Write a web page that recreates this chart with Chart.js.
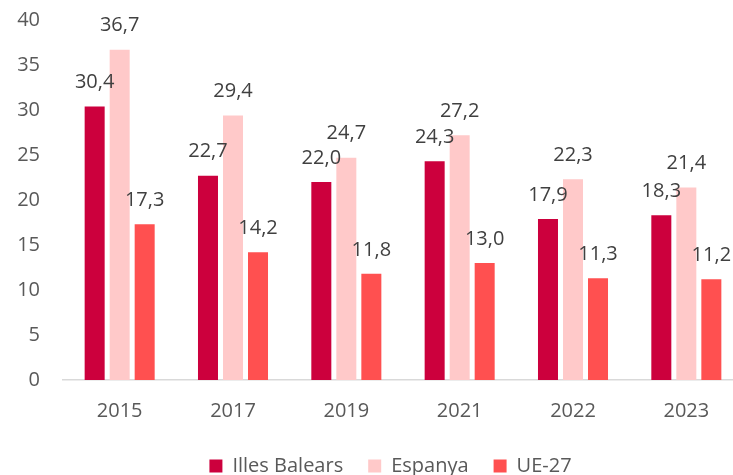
<!DOCTYPE html>
<html>
<head>
<meta charset="utf-8">
<script src="https://cdn.jsdelivr.net/npm/chart.js@4/dist/chart.umd.min.js"></script>
<style>
  html, body { margin: 0; padding: 0; background: #ffffff; overflow: hidden; }
  #wrap { width: 733px; height: 475px; overflow: hidden; }
</style>
</head>
<body>
<div id="wrap"><canvas id="c" width="745" height="475"></canvas></div>
<script>
// Years on the x axis
const years = ['2015', '2017', '2019', '2021', '2022', '2023'];
// Series values (%)
const illesBalears = [30.4, 22.7, 22.0, 24.3, 17.9, 18.3];
const espanya = [36.7, 29.4, 24.7, 27.2, 22.3, 21.4];
const ue27 = [17.3, 14.2, 11.8, 13.0, 11.3, 11.2];
// Y axis ticks
const yMin = 0, yMax = 40, yStep = 5;

const FONT = '"Open Sans", "Noto Sans", sans-serif';
const fmt = v => v.toFixed(1).replace('.', ',');

// Value labels drawn above each bar
const barLabels = {
  id: 'barLabels',
  afterDatasetsDraw(chart) {
    const ctx = chart.ctx;
    ctx.save();
    ctx.font = '20px ' + FONT;
    ctx.fillStyle = '#404040';
    ctx.textAlign = 'center';
    ctx.textBaseline = 'middle';
    chart.data.datasets.forEach((ds, i) => {
      chart.getDatasetMeta(i).data.forEach((bar, j) => {
        ctx.fillText(fmt(ds.data[j]), bar.x, bar.y - 24);
      });
    });
    ctx.restore();
  }
};

// Move the legend row into place
const legendShift = {
  id: 'legendShift',
  afterLayout(chart) {
    const dx = 19, dy = -11;
    const lg = chart.legend;
    lg.left += dx; lg.right += dx;
    lg.top += dy; lg.bottom += dy;
  }
};

new Chart(document.getElementById('c'), {
  type: 'bar',
  data: {
    labels: years,
    datasets: [
      { label: 'Illes Balears', data: illesBalears, backgroundColor: '#CC003D' },
      { label: 'Espanya', data: espanya, backgroundColor: '#FFC9C9' },
      { label: 'UE-27', data: ue27, backgroundColor: '#FF5050' }
    ]
  },
  options: {
    responsive: false,
    animation: false,
    devicePixelRatio: 1,
    layout: { padding: { left: 0, right: 2, top: 20, bottom: -22 } },
    datasets: { bar: { categoryPercentage: 0.662, barPercentage: 0.8, borderWidth: 0 } },
    scales: {
      x: {
        grid: { display: false, drawTicks: false },
        border: { display: true, color: '#D9D9D9', width: 1.5 },
        ticks: { color: '#595959', font: { family: FONT, size: 20 }, padding: 19 }
      },
      y: {
        min: yMin, max: yMax,
        grid: { display: false, drawTicks: false },
        border: { display: false },
        ticks: { stepSize: yStep, color: '#595959', font: { family: FONT, size: 20 }, padding: 23 },
        afterFit(scale) {
          scale.width = 63;
          scale.paddingTop = 0;
          scale.paddingBottom = 0;
        }
      }
    },
    plugins: {
      legend: {
        position: 'bottom',
        labels: {
          color: '#595959',
          font: { family: FONT, size: 20 },
          boxWidth: 13, boxHeight: 13,
          padding: 25
        }
      },
      tooltip: { enabled: false }
    }
  },
  plugins: [barLabels, legendShift]
});
</script>
</body>
</html>
